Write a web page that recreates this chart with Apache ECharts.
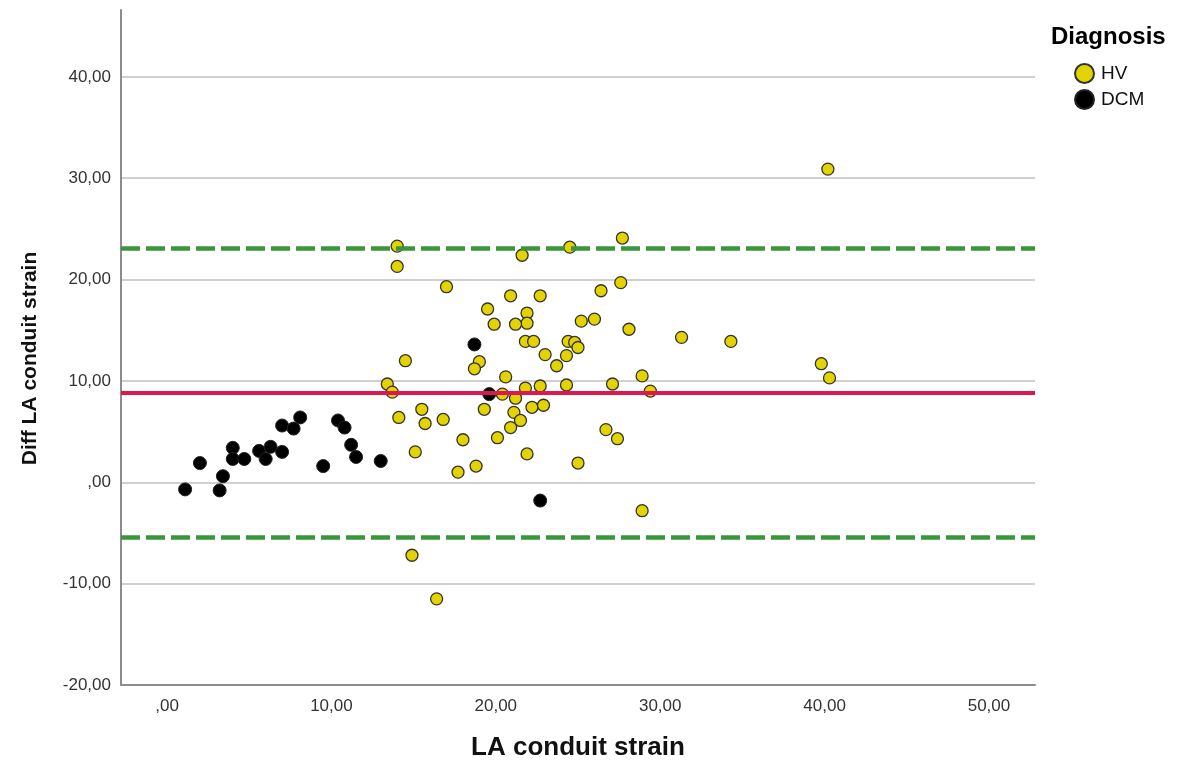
<!DOCTYPE html>
<html>
<head>
    <meta charset="utf-8">
    <title>Diff LA conduit strain</title>
    <script type="text/javascript" src="https://cdn.jsdelivr.net/npm/echarts@6/dist/echarts.min.js"></script>
    <style>
        body {
            margin: 0px;
            padding: 0px;
            background: #fff;
        }
    </style>
</head>
<body>
<div id="chartRegion" style="width: 1185px; height: 769px;"></div>
<script type="text/javascript">
    // HV group
    var hvX = [14.0, 14.0, 17.0, 21.6, 24.5, 27.7, 27.6, 26.4, 20.9, 22.7, 19.5, 21.9, 21.9, 21.2, 19.9, 25.2, 26.0, 28.1,
        21.8, 22.3, 24.4, 24.8, 25.0, 24.3, 23.0, 23.7, 14.5, 19.0, 18.7, 20.6, 27.1, 24.3, 22.7, 21.8, 13.4, 13.7,
        20.4, 21.2, 19.3, 15.5, 14.1, 16.8, 15.7, 21.1, 22.2, 22.9, 21.5, 20.9, 20.1, 18.0, 15.1, 21.9, 17.7, 18.8,
        25.0, 26.7, 27.4, 14.9, 16.4, 31.3, 34.3, 39.8, 40.3, 40.2, 28.9, 29.4, 28.9];
    var hvY = [23.3, 21.3, 19.3, 22.4, 23.2, 24.1, 19.7, 18.9, 18.4, 18.4, 17.1, 16.7, 15.7, 15.6, 15.6, 15.9, 16.1, 15.1,
        13.9, 13.9, 13.9, 13.8, 13.3, 12.5, 12.6, 11.5, 12.0, 11.9, 11.2, 10.4, 9.7, 9.6, 9.5, 9.3, 9.7, 8.9,
        8.7, 8.3, 7.2, 7.2, 6.4, 6.2, 5.8, 6.9, 7.4, 7.6, 6.1, 5.4, 4.4, 4.2, 3.0, 2.8, 1.0, 1.6,
        1.9, 5.2, 4.3, -7.2, -11.5, 14.3, 13.9, 11.7, 10.3, 30.9, 10.5, 9.0, -2.8];
    // DCM group
    var dcmX = [1.1, 2.0, 3.2, 3.4, 4.0, 4.0, 4.7, 5.6, 6.0, 6.3, 7.0, 7.0, 7.7, 8.1, 9.5, 10.4, 10.8, 11.2, 11.5, 13.0,
        18.7, 19.6, 22.7];
    var dcmY = [-0.7, 1.9, -0.8, 0.6, 3.4, 2.3, 2.3, 3.1, 2.3, 3.5, 3.0, 5.6, 5.3, 6.4, 1.6, 6.1, 5.4, 3.7, 2.5, 2.1,
        13.6, 8.7, -1.8];
    // mean difference and limits of agreement
    var meanDiff = 8.8;
    var upperLimit = 23.1;
    var lowerLimit = -5.4;

    function pairs(xs, ys) {
        var out = [];
        for (var i = 0; i < xs.length; i++) {
            out.push([xs[i], ys[i]]);
        }
        return out;
    }

    function fmt(v) {
        if (Math.abs(v % 10) > 1e-6) return '';
        if (v === 0) return ',00';
        return v.toFixed(2).replace('.', ',');
    }

    var chart = echarts.init(document.getElementById('chartRegion'));
    var option = {
        animation: false,
        backgroundColor: '#fff',
        title: {
            text: 'Diagnosis',
            left: 1046,
            top: 20,
            textStyle: {fontFamily: 'Liberation Sans, Arial', fontSize: 24, fontWeight: 'bold', color: '#000'}
        },
        legend: {
            data: ['HV', 'DCM'],
            orient: 'vertical',
            left: 1069,
            top: 58,
            icon: 'circle',
            itemWidth: 19,
            itemHeight: 19,
            itemGap: 5,
            textStyle: {fontFamily: 'Liberation Sans, Arial', fontSize: 19, color: '#111', padding: [0, 0, 0, 2]}
        },
        grid: {left: 121, right: 150, top: 10, bottom: 84},
        xAxis: {
            type: 'value',
            min: -2.8,
            max: 52.8,
            name: 'LA conduit strain',
            nameLocation: 'middle',
            nameGap: 50,
            nameTextStyle: {fontFamily: 'Liberation Sans, Arial', fontSize: 26, fontWeight: 'bold', color: '#111'},
            axisLine: {onZero: false, lineStyle: {color: '#8c8c8c', width: 2}},
            axisTick: {show: false},
            splitLine: {show: false},
            axisLabel: {
                showMinLabel: false,
                showMaxLabel: false,
                fontFamily: 'Liberation Sans, Arial',
                fontSize: 17,
                color: '#333',
                margin: 13,
                formatter: fmt
            }
        },
        yAxis: {
            type: 'value',
            min: -20,
            max: 46.6,
            interval: 10,
            name: 'Diff LA conduit strain',
            nameLocation: 'middle',
            nameRotate: 90,
            nameGap: 80,
            nameTextStyle: {
                fontFamily: 'Liberation Sans, Arial',
                fontSize: 21,
                fontWeight: 'bold',
                color: '#111',
                padding: [0, 22, 0, 0]
            },
            axisLine: {show: true, onZero: false, lineStyle: {color: '#8c8c8c', width: 2}},
            axisTick: {show: false},
            splitLine: {showMaxLine: false, lineStyle: {color: '#d0d0d0', width: 2}},
            axisLabel: {
                showMaxLabel: false,
                fontFamily: 'Liberation Sans, Arial',
                fontSize: 17,
                color: '#333',
                margin: 10,
                formatter: fmt
            }
        },
        series: [
            {
                name: 'DCM',
                type: 'scatter',
                symbolSize: 13,
                itemStyle: {color: '#000', borderColor: '#222', borderWidth: 1, opacity: 1},
                data: pairs(dcmX, dcmY)
            },
            {
                name: 'HV',
                type: 'scatter',
                symbolSize: 12,
                itemStyle: {color: '#e3d300', borderColor: '#333', borderWidth: 1.3, opacity: 1},
                data: pairs(hvX, hvY)
            },
            {
                name: 'lines',
                type: 'line',
                data: [],
                z: 5,
                markLine: {
                    silent: true,
                    symbol: 'none',
                    label: {show: false},
                    data: [
                        {yAxis: meanDiff, lineStyle: {color: '#e0174f', width: 4, type: 'solid'}},
                        {yAxis: upperLimit, lineStyle: {color: '#3a963a', width: 4.5, type: [19, 6]}},
                        {yAxis: lowerLimit, lineStyle: {color: '#3a963a', width: 4.5, type: [19, 6]}}
                    ]
                }
            }
        ]
    };
    chart.setOption(option);
</script>
</body>
</html>
